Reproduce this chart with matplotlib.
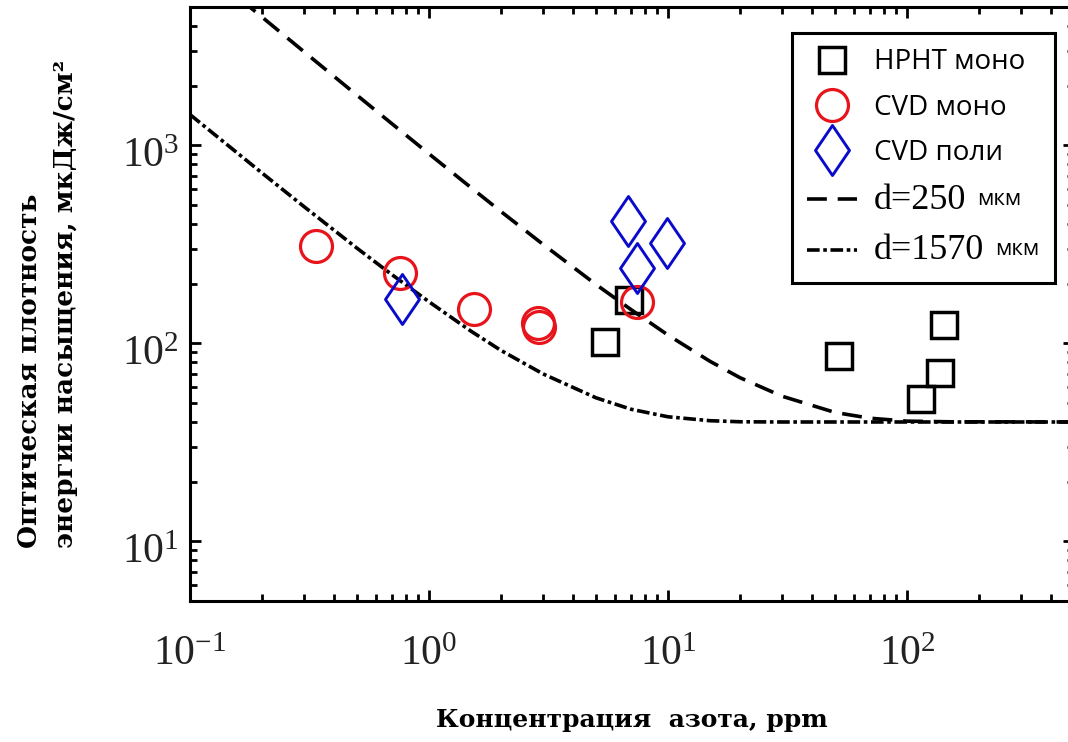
import matplotlib.pyplot as plt
from matplotlib.path import Path
from matplotlib.transforms import ScaledTranslation

# nitrogen concentration (ppm) vs saturation fluence (uJ/cm^2)
hpht_n = [5.45, 6.9, 52, 115, 137, 143]
hpht_f = [102, 166, 86, 52.5, 71, 124]

cvd_mono_n = [0.336, 0.757, 1.54, 2.85, 2.9, 7.4]
cvd_mono_f = [310, 227, 149, 126, 121, 161]

cvd_poly_n = [0.77, 6.8, 7.45, 9.95]
cvd_poly_f = [167, 414, 241, 322]

# calculated curves for two plate thicknesses
d250_n = [0.15, 0.2, 0.3, 0.5, 0.7, 1, 1.5, 2, 3, 5, 7, 10, 15, 20, 30, 50, 70, 100, 150, 500]
d250_f = [5920, 4450, 2970, 1790, 1285, 906, 611, 463, 316, 198, 148, 110, 81, 67, 54, 44.7, 41.8, 40.4, 40.1, 40]
d1570_n = [0.1, 0.2, 0.3, 0.5, 0.7, 1, 1.5, 2, 3, 5, 7, 10, 15, 20, 30, 500]
d1570_f = [1430, 725, 490, 302, 222, 162, 115, 92, 70, 53, 46.4, 42.5, 40.6, 40.1, 40, 40]

red = '#e8141b'
blue = '#0a0acd'
diamond = Path([(0, 1), (0.68, 0), (0, -1), (-0.68, 0), (0, 1)], closed=True)

fig = plt.figure(figsize=(10.68, 7.42), dpi=100)
ax = fig.add_axes([0.1779, 0.1904, 0.8277, 0.8002])
ax.set_xscale('log')
ax.set_yscale('log')

l250, = ax.plot(d250_n, d250_f, color='k', lw=2.6, dashes=(5.5, 3), label='d=250')
l1570, = ax.plot(d1570_n, d1570_f, color='k', lw=2.6, dashes=(3.5, 1, 1, 1), label='d=1570')

p_hpht, = ax.plot(hpht_n, hpht_f, ls='none', marker='s', ms=18.5, mfc='none',
                  mec='k', mew=2.5, label='HPHT моно')
p_mono, = ax.plot(cvd_mono_n, cvd_mono_f, ls='none', marker='o', ms=23, mfc='none',
                  mec=red, mew=2.3, label='CVD моно')
p_poly, = ax.plot(cvd_poly_n, cvd_poly_f, ls='none', marker=diamond, ms=36, mfc='none',
                  mec=blue, mew=2.1, label='CVD поли')

ax.set_xlim(0.1, 500)
ax.set_ylim(5, 5000)

for s in ax.spines.values():
    s.set_linewidth(2.2)
ax.tick_params(which='both', direction='in', top=True, right=True, width=2)
ax.tick_params(which='major', length=8, labelsize=30,
               labelfontfamily='Liberation Serif', labelcolor='#222222')
ax.tick_params(which='minor', length=5)
ax.tick_params(axis='x', pad=25)
ax.tick_params(axis='y', pad=8)
# push the y tick labels a little below their ticks
shift = ScaledTranslation(0, -5 / 72, fig.dpi_scale_trans)
for lab in ax.get_yticklabels():
    lab.set_transform(lab.get_transform() + shift)

ax.set_xlabel('Концентрация  азота, ppm', fontfamily='DejaVu Serif',
              fontweight='bold', fontsize=18)
ax.xaxis.set_label_coords(0.5, -0.181)
ax.set_ylabel('Оптическая плотность\nэнергии насыщения, мкДж/см²', fontfamily='DejaVu Serif',
              fontweight='bold', fontsize=19, linespacing=1.55, multialignment='left')
ax.yaxis.set_label_coords(-0.127, 0.5)

leg = ax.legend(handles=[p_hpht, p_mono, p_poly, l250, l1570], loc='upper left',
                bbox_to_anchor=(0.681, 0.5486, 0.2975, 0.4074), mode='expand',
                borderaxespad=0, prop={'family': 'Open Sans', 'size': 20},
                handlelength=1.8, handletextpad=0.6, borderpad=0.55, labelspacing=0.62,
                fancybox=False, framealpha=1, edgecolor='k', numpoints=1)
leg.get_frame().set_linewidth(2.2)
for t in leg.get_texts()[3:]:
    t.set_fontfamily('Liberation Serif')
    t.set_fontsize(26)
    ax.annotate('мкм', xy=(1, 0), xycoords=t, xytext=(8, 5), textcoords='offset points',
                ha='left', va='bottom', fontfamily='Open Sans', fontsize=16, zorder=6)

fig.savefig('out.png', dpi=100)
